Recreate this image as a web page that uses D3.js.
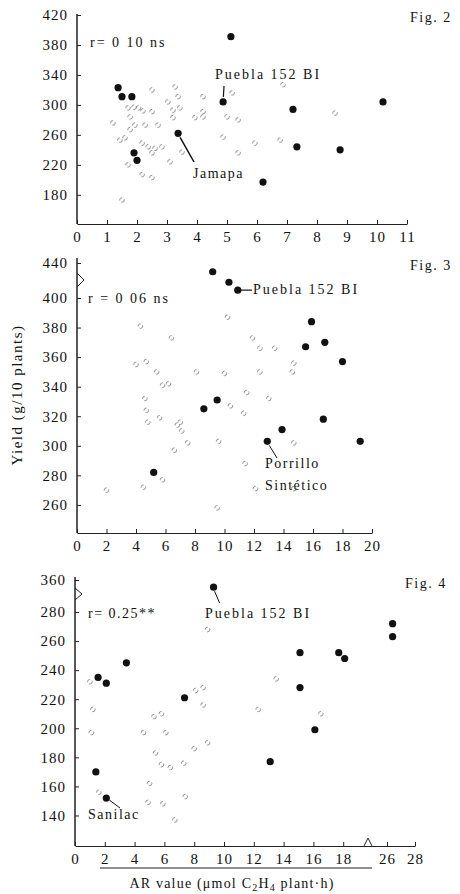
<!DOCTYPE html>
<html><head><meta charset="utf-8">
<script src="https://cdn.jsdelivr.net/npm/d3@7"></script>
<style>
body{margin:0;background:#fff;}
text{font-family:"Liberation Serif","DejaVu Serif",serif;fill:#111;}
</style></head>
<body><svg id="c" width="460" height="894"></svg>
<script>
// ---------- DATA ----------
// Fig. 2 : AR value (0-11) vs yield
const fig2XTicks = [0,1,2,3,4,5,6,7,8,9,10,11];
const fig2YTicks = [180,220,260,300,340,380,420];
const fig2Filled = [[1.37,323],[1.5,311],[1.83,311],[5.13,391],[4.87,304],[7.2,294],[10.2,304],
  [3.37,262],[1.9,236],[2.0,226],[7.33,244],[8.77,240],[6.2,197]];
const fig2Open = [[2.5,320],[1.7,296],[1.9,297],[2.05,296],[2.2,292],[2.5,291],[1.77,284],[2.27,273],
  [1.93,273],[1.2,276],[1.43,253],[1.6,256],[1.77,267],[2.17,249],[2.37,244],[2.6,242],[2.83,244],
  [2.5,236],[1.7,220],[2.17,207],[2.5,203],[3.1,224],[2.7,273],[1.5,173],[3.27,324],[3.37,311],
  [3.03,304],[3.2,293],[3.2,283],[3.43,296],[3.93,283],[4.2,311],[4.2,291],[4.2,284],[3.5,237],
  [4.87,257],[5.0,284],[5.17,316],[5.37,280],[5.37,236],[5.93,249],[6.77,253],[6.87,327],[8.6,289]];

// Fig. 3 : AR value (0-20) vs yield (axis break between 400 and 440)
const fig3XTicks = [0,2,4,6,8,10,12,14,16,18,20];
const fig3YTicks = [260,280,300,320,340,360,380,400,440];
const fig3Filled = [[9.2,430],[10.3,418],[10.9,409],[15.9,384],[15.5,367],[16.8,370],[18.0,357],
  [9.5,331],[8.6,325],[16.7,318],[13.9,311],[12.9,303],[19.2,303],[5.2,282]];
const fig3Open = [[4.3,381],[6.4,373],[10.2,387],[11.9,373],[12.4,366],[13.4,366],[4.0,355],[4.7,357],
  [5.4,350],[8.1,350],[10.0,349],[12.4,350],[14.7,356],[14.6,350],[5.8,341],[6.2,342],[4.6,332],
  [4.7,324],[5.6,319],[11.5,336],[13.0,332],[10.4,327],[11.3,322],[7.0,316],[4.8,316],[6.8,314],
  [7.1,310],[7.5,302],[6.6,297],[9.6,303],[11.4,288],[14.7,302],[4.5,272],[5.8,277],[2.0,270],
  [12.1,271],[14.7,271],[9.5,258]];

// Fig. 4 : AR value (0-28, break 18-26) vs yield (break 280-360)
const fig4XTicks = [0,2,4,6,8,10,12,14,16,18,26,28];
const fig4YTicks = [140,160,180,200,220,240,260,280,360];
const fig4Filled = [[9.3,342],[26.4,272],[26.4,263],[1.55,235],[2.1,231],[3.45,245],[7.35,221],
  [15.1,252],[15.1,228],[17.7,252],[18.1,248],[16.1,199],[13.1,177],[1.4,170],[2.1,152]];
const fig4Open = [[8.9,268],[1.0,232],[1.2,213],[1.1,197],[4.6,197],[5.3,208],[5.8,210],[6.1,197],
  [8.1,226],[8.6,228],[8.6,216],[8.9,190],[8.0,186],[5.4,183],[5.8,175],[6.4,173],[7.3,176],
  [5.0,162],[4.9,149],[5.9,148],[7.4,153],[6.7,137],[1.6,156],[12.3,213],[13.5,234],[16.5,210]];

const yLabel = "Yield (g/10 plants)";

// ---------- DRAW ----------
const svg = d3.select("#c");
const FS = 14;

function panel(o){
  const g = svg.append("g");
  const x = d3.scaleLinear().domain(o.xd).range(o.xr);
  const y = d3.scaleLinear().domain(o.yd).range(o.yr);
  const xa = d3.axisBottom(x).tickValues(o.xt).tickSizeInner(-4).tickSizeOuter(0).tickPadding(7).tickFormat(d3.format("d"));
  const ya = d3.axisLeft(y).tickValues(o.yt).tickSizeInner(-4).tickSizeOuter(0).tickPadding(9).tickFormat(d3.format("d"));
  const gx = g.append("g").attr("transform",`translate(0,${o.yr[0]})`).call(xa);
  const gy = g.append("g").attr("transform",`translate(${o.xr[0]},0)`).call(ya);
  [gx,gy].forEach(a=>{
    a.select(".domain").attr("stroke","#222").attr("stroke-width",1.1);
    a.selectAll(".tick line").attr("stroke","#222").attr("stroke-width",1);
    a.selectAll("text").attr("font-size",15).attr("letter-spacing",1)
      .attr("font-family","Liberation Serif, DejaVu Serif, serif").attr("fill","#111");
  });
  gy.select(".domain").remove();
  g.append("path").attr("d",`M${o.xr[0]},${o.yr[0]}L${o.xr[0]},${o.yTop}`)
    .attr("stroke","#222").attr("stroke-width",1.5).attr("fill","none");
  g.selectAll("circle.o").data(o.open).join("circle").attr("class","o")
    .attr("cx",d=>x(d[0])).attr("cy",d=>y(d[1])).attr("r",2.3)
    .attr("fill","none").attr("stroke","#888").attr("stroke-width",0.9)
    .attr("stroke-dasharray","4 2");
  g.selectAll("circle.f").data(o.filled).join("circle").attr("class","f")
    .attr("cx",d=>x(d[0])).attr("cy",d=>y(d[1])).attr("r",3.6).attr("fill","#111");
  return {g,x,y};
}

function txt(g,x,yy,s,opt={}){
  return g.append("text").attr("x",x).attr("y",yy).attr("font-size",opt.fs||FS)
    .attr("letter-spacing",opt.ls!==undefined?opt.ls:1.5).attr("text-anchor",opt.anchor||"start").text(s);
}
function line(g,x1,y1,x2,y2,w){
  g.append("line").attr("x1",x1).attr("y1",y1).attr("x2",x2).attr("y2",y2)
    .attr("stroke","#111").attr("stroke-width",w||1.2);
}

// Fig 2
const p1 = panel({xd:[0,11],xr:[77,407],yd:[141,420],yr:[224,15],yTop:14,
  xt:fig2XTicks,yt:fig2YTicks,filled:fig2Filled,open:fig2Open});
txt(p1.g,410,22,"Fig. 2");
txt(p1.g,90,47,"r= 0 10 ns",{ls:2});
txt(p1.g,215,79,"Puebla 152 BI",{ls:2});
line(p1.g,p1.x(4.9),86,p1.x(4.88),p1.y(304)-5);
txt(p1.g,193,178,"Jamapa",{ls:1.5});
line(p1.g,p1.x(3.37)+2,p1.y(262)+4,194,162,1.5);

// Fig 3
const p2 = panel({xd:[0,20],xr:[77,372],yd:[241,400,440],yr:[533,298,263],yTop:258,
  xt:fig3XTicks,yt:fig3YTicks,filled:fig3Filled,open:fig3Open});
txt(p2.g,410,270,"Fig. 3");
txt(p2.g,88,303,"r = 0 06 ns",{ls:2});
line(p2.g,p2.x(10.9)+3,p2.y(409),252,p2.y(409));
txt(p2.g,253,294,"Puebla 152 BI",{ls:2});
line(p2.g,p2.x(12.9)+2,p2.y(303)+4,277,458,1);
txt(p2.g,265,468,"Porrillo",{ls:1.5});
txt(p2.g,265,490,"Sintético",{ls:1.5});
p2.g.append("path").attr("d","M77,273 L84,280 L77,287").attr("fill","none").attr("stroke","#222");

// Fig 4
const p3 = panel({xd:[0,20,25,28],xr:[75,373,373,415],yd:[119,280,360],yr:[846,612,580],yTop:577,
  xt:fig4XTicks,yt:fig4YTicks,filled:fig4Filled,open:fig4Open});
txt(p3.g,405,588,"Fig. 4");
txt(p3.g,88,618,"r= 0.25**",{ls:1.5});
txt(p3.g,205,618,"Puebla 152 BI",{ls:2});
line(p3.g,p3.x(9.3)+1,p3.y(342)+4,p3.x(9.3)+6,603,1);
txt(p3.g,88,819,"Sanilac",{ls:1.5});
line(p3.g,p3.x(2.1)+3,p3.y(152)+2,120,808,1);
p3.g.append("path").attr("d","M75,588 L82,594 L75,600").attr("fill","none").attr("stroke","#222");
p3.g.append("path").attr("d","M364,846 L368,838 L372,846").attr("fill","none").attr("stroke","#222");

// axis labels
svg.append("text").attr("transform","translate(22,395) rotate(-90)").attr("text-anchor","middle")
  .attr("font-size",15).attr("letter-spacing",1.5).text(yLabel);
svg.append("line").attr("x1",100).attr("x2",372).attr("y1",868).attr("y2",868).attr("stroke","#222").attr("stroke-width",1.2);
const xl = svg.append("text").attr("x",232).attr("y",888).attr("text-anchor","middle").attr("font-size",FS).attr("letter-spacing",1.2);
xl.append("tspan").text("AR value (μmol C");
xl.append("tspan").attr("font-size",10).attr("dy",3).text("2");
xl.append("tspan").attr("dy",-3).text("H");
xl.append("tspan").attr("font-size",10).attr("dy",3).text("4");
xl.append("tspan").attr("dy",-3).text(" plant·h)");
</script></body></html>
